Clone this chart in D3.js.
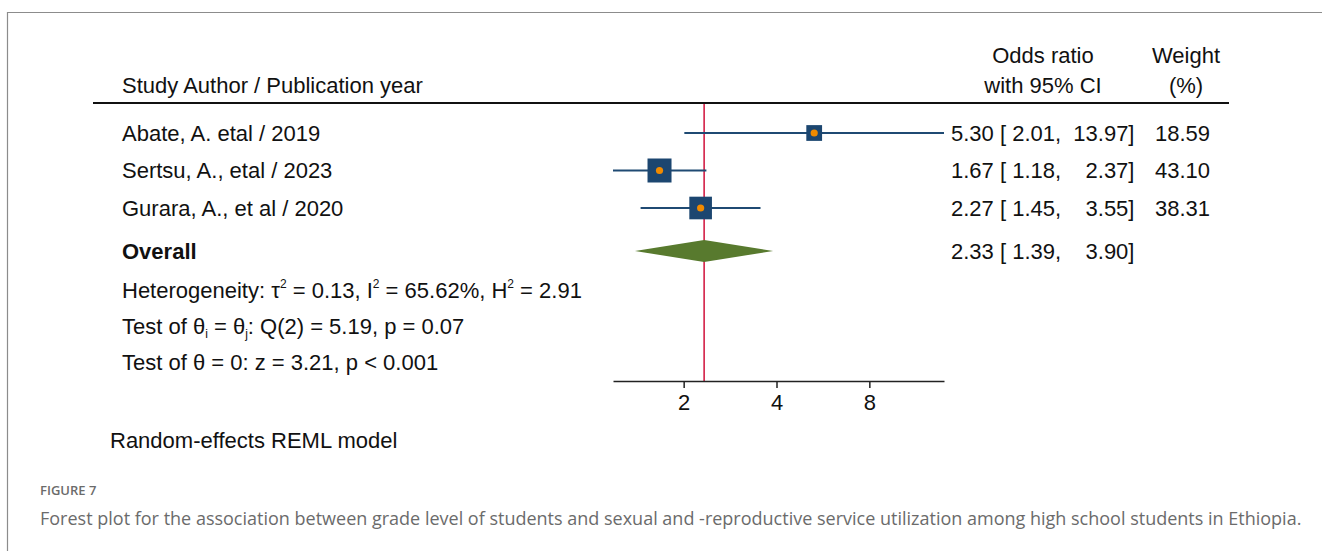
<!DOCTYPE html>
<html>
<head>
<meta charset="utf-8">
<script src="https://cdn.jsdelivr.net/npm/d3@7"></script>
<style>
  html, body { margin: 0; padding: 0; background: #fff; }
  svg { display: block; }
  .t { font-family: "Liberation Sans", Arial, Helvetica, sans-serif; font-size: 22px; fill: #111; white-space: pre; }
  .cap { font-family: "Open Sans", Lato, sans-serif; fill: #6b6b6b; }
</style>
</head>
<body>
<svg id="chart" width="1322" height="551"></svg>
<script>
// Study-level estimates (odds ratios with 95% CI) and random-effects weights
const studies   = ["Abate, A. etal / 2019", "Sertsu, A., etal / 2023", "Gurara, A., et al / 2020"];
const oddsRatio = [5.30, 1.67, 2.27];
const ciLower   = [2.01, 1.18, 1.45];
const ciUpper   = [13.97, 2.37, 3.55];
const weights   = [18.59, 43.10, 38.31];

// Pooled estimate: [OR, lower, upper]
const overall = [2.33, 1.39, 3.90];

const axisTicks = [2, 4, 8];

const svg = d3.select("#chart");

// Outer frame (top and left rules)
svg.append("path")
  .attr("d", "M7.5,551 V12.5 H1322")
  .attr("fill", "none").attr("stroke", "#8c8c8c").attr("stroke-width", 1.2);

// Log scale for odds ratios
const x = d3.scaleLog().base(2)
  .domain([d3.min(ciLower), d3.max(ciUpper)])
  .range([613, 944]);

// Vertical positions of rows
const y = d3.scaleLinear().domain([0, 1]).range([133, 170.5]);
const rowY = studies.map((d, i) => y(i));
const overallY = 251;

const boxSize = d3.scaleSqrt().domain([0, d3.max(weights)]).range([0, 24]);

// Header
svg.append("text").attr("class", "t").attr("x", 122).attr("y", 93).text("Study Author / Publication year");
svg.append("text").attr("class", "t").attr("x", 1043).attr("y", 63).attr("text-anchor", "middle").text("Odds ratio");
svg.append("text").attr("class", "t").attr("x", 1043).attr("y", 93).attr("text-anchor", "middle").text("with 95% CI");
svg.append("text").attr("class", "t").attr("x", 1186).attr("y", 63).attr("text-anchor", "middle").text("Weight");
svg.append("text").attr("class", "t").attr("x", 1186).attr("y", 93).attr("text-anchor", "middle").text("(%)");

svg.append("line").attr("x1", 93).attr("x2", 1229).attr("y1", 103).attr("y2", 103)
  .attr("stroke", "#111").attr("stroke-width", 2);

// Reference line at the pooled estimate
svg.append("line")
  .attr("x1", x(overall[0])).attr("x2", x(overall[0]))
  .attr("y1", 104).attr("y2", 381)
  .attr("stroke", "#d0103a").attr("stroke-width", 1.5);

const fmt = d3.format(".2f");
// "OR [ lo,  hi]" with the upper bound right-aligned (digits are tabular, two spaces = one digit)
const ciText = (or, lo, hi) => {
  const h = fmt(hi);
  const pad = h.length < 5 ? "    " : "  ";
  return `${fmt(or)} [ ${fmt(lo)},${pad}${h}]`;
};

// Study rows
const rows = svg.append("g").selectAll("g").data(studies).join("g");

rows.append("text").attr("class", "t")
  .attr("x", 122).attr("y", (d, i) => rowY[i]).attr("dy", "0.36em")
  .text(d => d);

rows.append("line")
  .attr("x1", (d, i) => x(ciLower[i])).attr("x2", (d, i) => x(ciUpper[i]))
  .attr("y1", (d, i) => rowY[i]).attr("y2", (d, i) => rowY[i])
  .attr("stroke", "#1f4a73").attr("stroke-width", 2);

rows.append("rect")
  .attr("x", (d, i) => x(oddsRatio[i]) - boxSize(weights[i]) / 2)
  .attr("y", (d, i) => rowY[i] - boxSize(weights[i]) / 2)
  .attr("width", (d, i) => boxSize(weights[i]))
  .attr("height", (d, i) => boxSize(weights[i]))
  .attr("fill", "#1c4670");

rows.append("circle")
  .attr("cx", (d, i) => x(oddsRatio[i])).attr("cy", (d, i) => rowY[i])
  .attr("r", 3.6).attr("fill", "#f08a00");

// Right-hand columns: OR [CI] and weight
rows.append("text").attr("class", "t")
  .attr("x", 951).attr("y", (d, i) => rowY[i]).attr("dy", "0.36em")
  .text((d, i) => ciText(oddsRatio[i], ciLower[i], ciUpper[i]));
rows.append("text").attr("class", "t")
  .attr("x", 1210).attr("y", (d, i) => rowY[i]).attr("dy", "0.36em").attr("text-anchor", "end")
  .text((d, i) => fmt(weights[i]));

// Overall row
svg.append("text").attr("class", "t").attr("x", 122).attr("y", overallY).attr("dy", "0.36em")
  .attr("font-weight", "bold").text("Overall");

const dh = 11;
svg.append("path")
  .attr("d", `M${x(overall[1])},${overallY} L${x(overall[0])},${overallY - dh} L${x(overall[2])},${overallY} L${x(overall[0])},${overallY + dh} Z`)
  .attr("fill", "#587a2e");

svg.append("text").attr("class", "t").attr("x", 951).attr("y", overallY).attr("dy", "0.36em")
  .text(ciText(overall[0], overall[1], overall[2]));

// Heterogeneity statistics
const het = svg.append("text").attr("class", "t").attr("x", 122).attr("y", 290).attr("dy", "0.36em");
het.append("tspan").text("Heterogeneity: \u03C4");
het.append("tspan").attr("dy", -10).attr("font-size", 12).text("2");
het.append("tspan").attr("dy", 10).text(" = 0.13, I");
het.append("tspan").attr("dy", -10).attr("font-size", 12).text("2");
het.append("tspan").attr("dy", 10).text(" = 65.62%, H");
het.append("tspan").attr("dy", -10).attr("font-size", 12).text("2");
het.append("tspan").attr("dy", 10).text(" = 2.91");

const q = svg.append("text").attr("class", "t").attr("x", 122).attr("y", 326).attr("dy", "0.36em");
q.append("tspan").text("Test of \u03B8");
q.append("tspan").attr("dy", 4).attr("font-size", 12).text("i");
q.append("tspan").attr("dy", -4).text(" = \u03B8");
q.append("tspan").attr("dy", 4).attr("font-size", 12).text("j");
q.append("tspan").attr("dy", -4).text(": Q(2) = 5.19, p = 0.07");

svg.append("text").attr("class", "t").attr("x", 122).attr("y", 362).attr("dy", "0.36em")
  .text("Test of \u03B8 = 0: z = 3.21, p < 0.001");

// X axis
const axis = svg.append("g").attr("transform", "translate(0,381)")
  .call(d3.axisBottom(x).tickValues(axisTicks).tickFormat(d3.format("d"))
    .tickSize(7).tickSizeOuter(0).tickPadding(6));
axis.select(".domain").attr("stroke", "#222").attr("stroke-width", 1.5);
axis.selectAll(".tick line").attr("stroke", "#222").attr("stroke-width", 1.5);
axis.selectAll(".tick text")
  .attr("font-family", "'Liberation Sans', Arial, sans-serif").attr("font-size", 22).attr("fill", "#111");

svg.append("text").attr("class", "t").attr("x", 110).attr("y", 440).attr("dy", "0.36em")
  .text("Random-effects REML model");

// Figure caption
svg.append("text").attr("class", "cap").attr("x", 40).attr("y", 490).attr("dy", "0.36em")
  .attr("font-size", 13).attr("font-weight", 600).text("FIGURE 7");
svg.append("text").attr("class", "cap").attr("x", 40).attr("y", 519).attr("dy", "0.36em")
  .attr("font-size", 18)
  .text("Forest plot for the association between grade level of students and sexual and -reproductive service utilization among high school students in Ethiopia.");
</script>
</body>
</html>
